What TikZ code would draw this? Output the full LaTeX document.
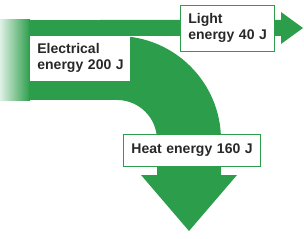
\documentclass[tikz,border=0pt]{standalone}
\usepackage{fontspec}
\setmainfont{Liberation Sans}
\usepackage{tikz}
\definecolor{flowgreen}{RGB}{44,157,75}
\definecolor{labelgray}{RGB}{40,40,40}

\begin{document}
\begin{tikzpicture}[
  x=1pt, y=-1pt,
  flow/.style={fill=flowgreen, draw=none},
  energybox/.style={rectangle, draw=flowgreen, fill=white, line width=0.8pt, anchor=west, inner ysep=0pt, text=labelgray, font=\fontsize{14}{16}\selectfont\bfseries, align=left}
]
  \useasboundingbox (0,0) rectangle (304,238);
  % input band, faded at the left
  \shade[left color=flowgreen!15, right color=flowgreen] (0,20) rectangle (30,100);
  \fill[flow] (29,20) rectangle (118,100);
  % light branch
  \fill[flow] (100,20) -- (281,20) -- (281,12) -- (303,28) -- (281,44) -- (281,36) -- (100,36) -- cycle;
  % heat branch
  \fill[flow] (117,36) arc[start angle=-90, end angle=0, radius=104] -- (221,175) -- (237,175) -- (189,231) -- (141,175) -- (157,175) -- (157,140) arc[start angle=0, end angle=-90, radius=40] -- cycle;
  % labels
  \node[energybox, draw=white, text width=85pt, inner xsep=7pt, minimum height=44pt] (elec) at (30,58) {\mbox{Electrical}\\\mbox{energy 200 J}};
  \node[energybox, text width=78pt, inner xsep=8pt, minimum height=46pt] (light) at (180,28) {\mbox{Light}\\\mbox{energy 40 J}};
  \node[energybox, text width=121pt, inner xsep=8pt, minimum height=32pt, align=center] (heat) at (123,150) {\mbox{Heat energy 160 J}};
\end{tikzpicture}
\end{document}
